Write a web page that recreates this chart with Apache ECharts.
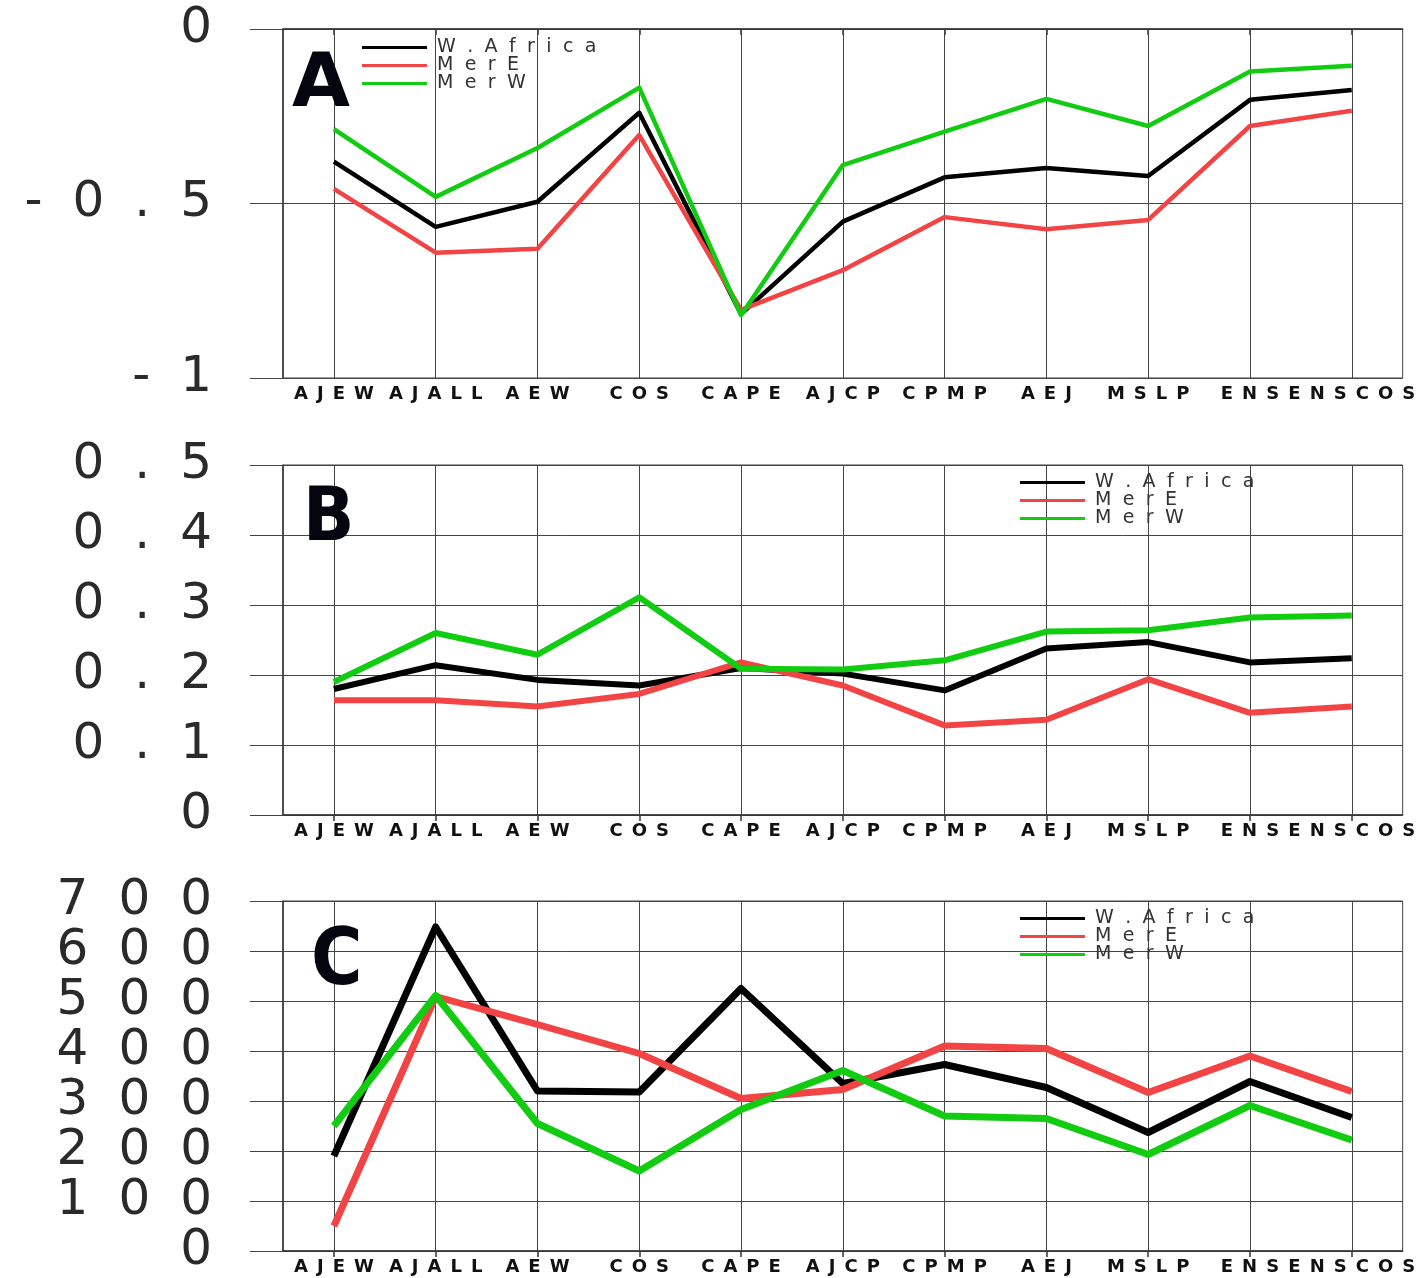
<!DOCTYPE html>
<html>
<head>
<meta charset="utf-8">
<script src="https://cdn.jsdelivr.net/npm/echarts@6/dist/echarts.min.js"></script>
<style>
html,body{margin:0;padding:0;background:#fff;}
#chart{width:1418px;height:1278px;}
</style>
</head>
<body>
<div id="chart"></div>
<script>
const categories = ['AJEW','AJALL','AEW','COS','CAPE','AJCP','CPMP','AEJ','MSLP','ENS','ENSCOS'];
const seriesNames = ['W.Africa','MerE','MerW'];
const panelLetters = ['A','B','C'];

// Panel A
const aWAfrica = [-0.38,-0.567,-0.495,-0.24,-0.817,-0.552,-0.425,-0.398,-0.421,-0.203,-0.175];
const aMerE    = [-0.458,-0.641,-0.63,-0.304,-0.805,-0.691,-0.539,-0.574,-0.547,-0.278,-0.234];
const aMerW    = [-0.287,-0.481,-0.341,-0.168,-0.82,-0.39,-0.294,-0.2,-0.278,-0.122,-0.105];
// Panel B
const bWAfrica = [0.18,0.214,0.193,0.185,0.21,0.202,0.178,0.238,0.247,0.218,0.224];
const bMerE    = [0.164,0.164,0.155,0.173,0.218,0.185,0.128,0.136,0.194,0.146,0.155];
const bMerW    = [0.19,0.26,0.229,0.311,0.209,0.208,0.221,0.262,0.264,0.282,0.285];
// Panel C
const cWAfrica = [190,648,320,318,525,335,373,327,237,339,267];
const cMerE    = [50,509,453,395,305,323,410,405,317,390,319];
const cMerW    = [250,511,255,160,283,361,270,265,193,291,222];

// Tick labels
const yTicksA = [-1,-0.5,0];
const yTicksB = [0,0.1,0.2,0.3,0.4,0.5];
const yTicksC = [0,100,200,300,400,500,600,700];

const colors = ['#000000','#f24444','#11cc11'];
const panelData = [[aWAfrica,aMerE,aMerW],[bWAfrica,bMerE,bMerW],[cWAfrica,cMerE,cMerW]];
const panelTicks = [yTicksA,yTicksB,yTicksC];
const lineWidths = [4.5,6,7];
const gridTops = [29,465,901];
const gridHeights = [349,350,350];
const legendPos = [{left:362,top:38},{left:1020,top:473},{left:1020,top:909}];
const letterPos = [{left:292,top:49,font:'DejaVu Sans'},{left:303,top:483,font:'DejaVu Sans Condensed'},{left:311,top:925,font:'DejaVu Sans Condensed'}];

const spaced = (s, sep) => String(s).split('').join(sep);
const gridColor = '#444';

const option = {
  backgroundColor:'#ffffff',
  animation:false,
  title: panelLetters.map((t,i)=>({
    text:t, left:letterPos[i].left, top:letterPos[i].top, padding:0,
    textStyle:{fontFamily:letterPos[i].font, fontWeight:'bold', fontSize:i===2?78:75, color:'#05050f'}
  })),
  legend: legendPos.map((p,i)=>({
    orient:'vertical', left:p.left, top:p.top, padding:0,
    itemWidth:65, itemHeight:3, itemGap:-1, icon:'rect',
    data:seriesNames,
    formatter: n => spaced(n,'\u2002\u200a'),
    textStyle:{fontFamily:'DejaVu Sans', fontSize:19, color:'#333', padding:[0,0,0,5]}
  })),
  grid: gridTops.map((t,i)=>({left:283, top:t, width:1123, height:gridHeights[i], show:true, borderColor:gridColor, borderWidth:1, backgroundColor:'transparent'})),
  xAxis: gridTops.map((t,i)=>({
    type:'category', gridIndex:i, data:categories, boundaryGap:true,
    axisLine:{show:true, lineStyle:{color:'#333', width:1.5}},
    axisTick:{show:true, alignWithLabel:true, length:6, lineStyle:{color:'#333', width:1.5}},
    splitLine:{show:false},
    axisLabel:{interval:0, margin:7, fontFamily:'DejaVu Sans', fontWeight:'bold', fontSize:18, color:'#111',
      formatter: v => spaced(v,'\u2002')}
  })),
  yAxis: panelTicks.map((tk,i)=>({
    type:'value', gridIndex:i, min:tk[0], max:tk[tk.length-1], interval:tk[1]-tk[0],
    axisLine:{show:true, lineStyle:{color:'#333', width:1.5}},
    axisTick:{show:true, length:33, lineStyle:{color:gridColor, width:1}},
    splitLine:{show:true, lineStyle:{color:gridColor, width:1}},
    axisLabel:{margin:71, fontFamily:'DejaVu Sans', fontWeight:'normal', fontSize:50, color:'#2a2a2a',
      formatter: v => spaced(v,'\u2002\u200a')}
  })),
  series: []
};

panelData.forEach((group,pi)=>{
  group.forEach((vals,si)=>{
    const s = {
      type:'line', name:seriesNames[si], xAxisIndex:pi, yAxisIndex:pi,
      data:vals, symbol:'none', smooth:false,
      lineStyle:{color:colors[si], width:lineWidths[pi], join:'round'},
      itemStyle:{color:colors[si]}, z:2+si
    };
    if(si===0){
      s.markLine = {
        silent:true, symbol:'none', z:1, animation:false,
        label:{show:false},
        lineStyle:{color:gridColor, width:1, type:'solid'},
        emphasis:{disabled:true},
        data: categories.map(c=>({xAxis:c}))
      };
    }
    option.series.push(s);
  });
});

const chart = echarts.init(document.getElementById('chart'), null, {renderer:'canvas'});
chart.setOption(option);
</script>
</body>
</html>
